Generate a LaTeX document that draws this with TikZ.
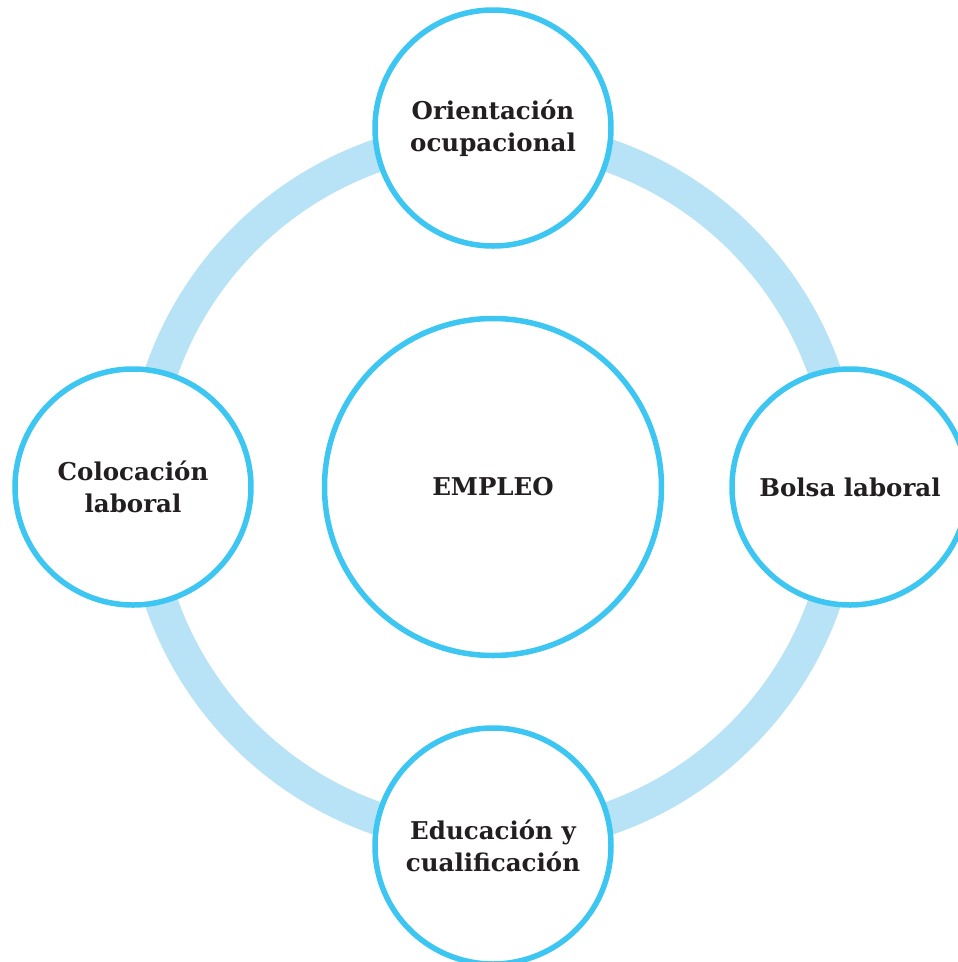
\documentclass[tikz,border=0pt]{standalone}
\usepackage{fontspec}
\setmainfont{DejaVu Serif}
\definecolor{ringblue}{HTML}{B8E3F7}
\definecolor{edgeblue}{HTML}{3DC6F1}
\definecolor{inkdark}{HTML}{231F20}
\tikzset{
  bubble/.style={circle, draw=edgeblue, line width=5.5pt, fill=white, inner sep=0pt,
    minimum size=236pt, align=center, text=inkdark,
    font=\bfseries\fontsize{24.5}{32.5}\selectfont},
  hub/.style={bubble, minimum size=337pt}
}
\begin{document}
\begin{tikzpicture}[x=1pt,y=-1pt]
\useasboundingbox (0,0) rectangle (958,962);
\clip (0,0) rectangle (958,962);
\coordinate (c) at (493,487);
\draw[ringblue, line width=33pt] (c) circle[radius=351];
\node[hub] (empleo) at (c) {EMPLEO};
\node[bubble] (orient) at (493,128) {Orientación\\ocupacional};
\node[bubble] (bolsa) at (850,487) {Bolsa laboral};
\node[bubble] (educ) at (493,846) {Educación y\\cualificación};
\node[bubble] (coloc) at (133,487) {Colocación\\laboral};
\end{tikzpicture}
\end{document}
